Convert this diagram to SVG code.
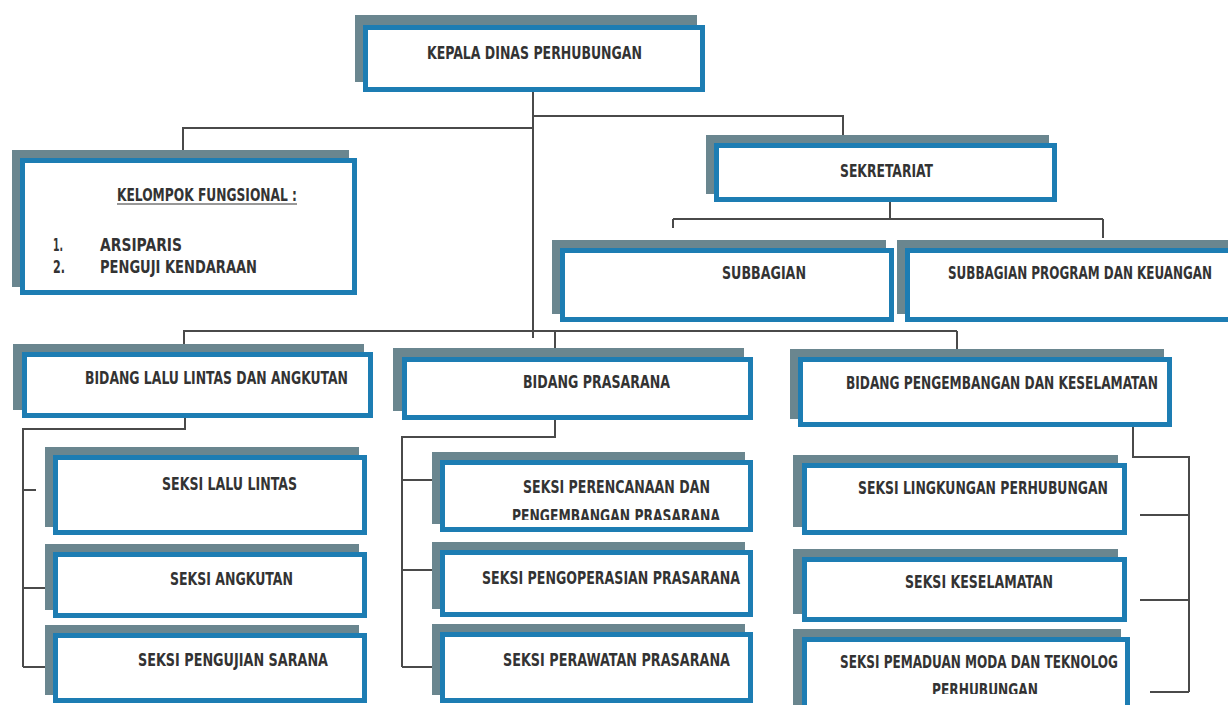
<svg xmlns="http://www.w3.org/2000/svg" width="1228" height="705" viewBox="0 0 1228 705">
<defs>
<style>
.sh{fill:#6a868f;}
.bx{fill:#ffffff;stroke:#1d7db3;stroke-width:5;}
.t{font-family:"DejaVu Sans Condensed","DejaVu Sans",sans-serif;font-weight:bold;font-size:17px;fill:#333333;}
.c{fill:none;stroke:#4a4a4a;stroke-width:2;}
</style>
<clipPath id="clipPer"><rect x="440" y="440" width="320" height="80"/></clipPath>
<clipPath id="clipPem"><rect x="802" y="620" width="330" height="74"/></clipPath>
</defs>
<rect width="1228" height="705" fill="#ffffff"/>

<g id="connectors" class="c">
<path d="M533,92 V338"/>
<path d="M533,128 H183 V156"/>
<path d="M533,116 H843 V136"/>
<path d="M890,202 V219 M673,219 H1103 M673,219 V228 M1103,219 V238"/>
<path d="M183,331 H957 M184,331 V348 M555,331 V354 M957,331 V356"/>
<path d="M185,418 V429 H23 V667 M23,490 H36 M23,588 H50 M23,667 H52"/>
<path d="M555,420 V437 H402 V667 M402,480 H435 M402,570 H435 M402,667 H435"/>
<path d="M1133,427 V457 H1189 V692 M1189,515 H1140 M1189,600 H1140 M1189,692 H1150"/>
</g>

<g id="kepala">
<rect class="sh" x="355" y="15" width="342" height="67"/>
<rect class="bx" x="365.5" y="27.5" width="337" height="62"/>
<text class="t" x="427" y="59" textLength="215" lengthAdjust="spacingAndGlyphs">KEPALA DINAS PERHUBUNGAN</text>
</g>

<g id="kelompok">
<rect class="sh" x="12" y="150" width="337" height="137"/>
<rect class="bx" x="22.5" y="160.5" width="332" height="132"/>
<text class="t" x="117" y="201" textLength="180" lengthAdjust="spacingAndGlyphs">KELOMPOK FUNGSIONAL :</text>
<line x1="117" y1="204" x2="297" y2="204" stroke="#333" stroke-width="1.2"/>
<text class="t" x="53" y="251" textLength="10" lengthAdjust="spacingAndGlyphs">1.</text>
<text class="t" x="100" y="251" textLength="82" lengthAdjust="spacingAndGlyphs">ARSIPARIS</text>
<text class="t" x="53" y="273" textLength="12" lengthAdjust="spacingAndGlyphs">2.</text>
<text class="t" x="100" y="273" textLength="157" lengthAdjust="spacingAndGlyphs">PENGUJI KENDARAAN</text>
</g>

<g id="sekretariat">
<rect class="sh" x="706" y="135" width="343" height="59"/>
<rect class="bx" x="716.5" y="145.5" width="338" height="54"/>
<text class="t" x="840" y="177" textLength="93" lengthAdjust="spacingAndGlyphs">SEKRETARIAT</text>
</g>

<g id="subbagian">
<rect class="sh" x="552" y="240" width="334" height="74"/>
<rect class="bx" x="562.5" y="250.5" width="329" height="69"/>
<text class="t" x="722" y="279" textLength="84" lengthAdjust="spacingAndGlyphs">SUBBAGIAN</text>
</g>

<g id="subbagian-program">
<rect class="sh" x="897" y="240" width="340" height="74"/>
<rect class="bx" x="907.5" y="250.5" width="335" height="69"/>
<g transform="translate(948,279) scale(0.8,1)">
<text class="t" x="0" y="0" textLength="330" lengthAdjust="spacingAndGlyphs">SUBBAGIAN PROGRAM DAN KEUANGAN</text>
</g>
</g>

<g id="bidang-lalu-lintas">
<rect class="sh" x="13" y="344" width="351" height="66"/>
<rect class="bx" x="24.5" y="354.5" width="346" height="61"/>
<text class="t" x="85" y="384" textLength="263" lengthAdjust="spacingAndGlyphs">BIDANG LALU LINTAS DAN ANGKUTAN</text>
</g>

<g id="bidang-prasarana">
<rect class="sh" x="393" y="348" width="351" height="63"/>
<rect class="bx" x="404.5" y="359.5" width="346" height="58"/>
<text class="t" x="523" y="388" textLength="147" lengthAdjust="spacingAndGlyphs">BIDANG PRASARANA</text>
</g>

<g id="bidang-pengembangan">
<rect class="sh" x="790" y="349" width="374" height="70"/>
<rect class="bx" x="800.5" y="359.5" width="369" height="65"/>
<g transform="translate(846,389) scale(0.8,1)">
<text class="t" x="0" y="0" textLength="390" lengthAdjust="spacingAndGlyphs">BIDANG PENGEMBANGAN DAN KESELAMATAN</text>
</g>
</g>

<g id="seksi-lalu-lintas">
<rect class="sh" x="45" y="447" width="314" height="80"/>
<rect class="bx" x="55.5" y="457.5" width="309" height="75"/>
<text class="t" x="162" y="490" textLength="135" lengthAdjust="spacingAndGlyphs">SEKSI LALU LINTAS</text>
</g>

<g id="seksi-angkutan">
<rect class="sh" x="45" y="544" width="314" height="66"/>
<rect class="bx" x="55.5" y="554.5" width="309" height="61"/>
<text class="t" x="170" y="585" textLength="123" lengthAdjust="spacingAndGlyphs">SEKSI ANGKUTAN</text>
</g>

<g id="seksi-pengujian">
<rect class="sh" x="45" y="625" width="314" height="70"/>
<rect class="bx" x="55.5" y="635.5" width="309" height="65"/>
<text class="t" x="138" y="666" textLength="190" lengthAdjust="spacingAndGlyphs">SEKSI PENGUJIAN SARANA</text>
</g>

<g id="seksi-perencanaan">
<rect class="sh" x="432" y="452" width="313" height="72"/>
<rect class="bx" x="442.5" y="462.5" width="308" height="67"/>
<text class="t" x="523" y="493" textLength="187" lengthAdjust="spacingAndGlyphs">SEKSI PERENCANAAN DAN</text>
<text class="t" x="512" y="522" textLength="208" lengthAdjust="spacingAndGlyphs" clip-path="url(#clipPer)">PENGEMBANGAN PRASARANA</text>
</g>

<g id="seksi-pengoperasian">
<rect class="sh" x="432" y="542" width="313" height="67"/>
<rect class="bx" x="442.5" y="552.5" width="308" height="62"/>
<text class="t" x="482" y="584" textLength="258" lengthAdjust="spacingAndGlyphs">SEKSI PENGOPERASIAN PRASARANA</text>
</g>

<g id="seksi-perawatan">
<rect class="sh" x="432" y="624" width="313" height="71"/>
<rect class="bx" x="442.5" y="634.5" width="308" height="66"/>
<text class="t" x="503" y="666" textLength="227" lengthAdjust="spacingAndGlyphs">SEKSI PERAWATAN PRASARANA</text>
</g>

<g id="seksi-lingkungan">
<rect class="sh" x="793" y="455" width="325" height="72"/>
<rect class="bx" x="804.5" y="465.5" width="320" height="67"/>
<text class="t" x="858" y="494" textLength="250" lengthAdjust="spacingAndGlyphs">SEKSI LINGKUNGAN PERHUBUNGAN</text>
</g>

<g id="seksi-keselamatan">
<rect class="sh" x="793" y="549" width="325" height="65"/>
<rect class="bx" x="804.5" y="559.5" width="320" height="60"/>
<text class="t" x="905" y="588" textLength="148" lengthAdjust="spacingAndGlyphs">SEKSI KESELAMATAN</text>
</g>

<g id="seksi-pemaduan">
<rect class="sh" x="793" y="629" width="328" height="80"/>
<rect class="bx" x="804.5" y="639.5" width="323" height="75"/>
<text class="t" x="840" y="668" textLength="278" lengthAdjust="spacingAndGlyphs">SEKSI PEMADUAN MODA DAN TEKNOLOG</text>
<text class="t" x="932" y="696" textLength="106" lengthAdjust="spacingAndGlyphs" clip-path="url(#clipPem)">PERHUBUNGAN</text>
</g>
</svg>
